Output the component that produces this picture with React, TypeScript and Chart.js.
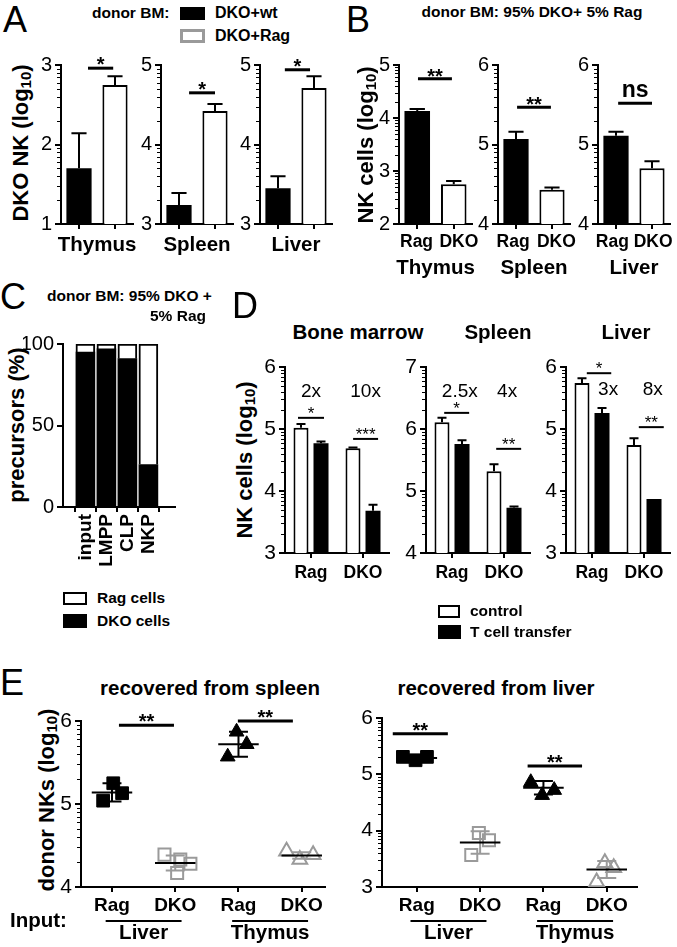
import React, { useEffect, useRef } from 'react';
import { Chart, registerables } from 'chart.js';

Chart.register(...registerables);

const FONT = '"Liberation Sans", Arial, Helvetica, sans-serif';
const GRAY = '#9a9a9a';

// ---------------- Panel A : DKO NK (log10) ----------------
const A_ORGANS = ['Thymus', 'Spleen', 'Liver'];
const A_DKO_WT = [1.7, 3.24, 3.45];
const A_DKO_WT_ERR = [0.44, 0.15, 0.15];
const A_DKO_RAG = [2.75, 4.42, 4.71];
const A_DKO_RAG_ERR = [0.11, 0.09, 0.15];
const A_YMIN = [1, 3, 3];
const A_YMAX = [3, 5, 5];
const A_SIG = ['*', '*', '*'];
const A_SIG_Y = [2.96, 4.65, 4.94];

// ---------------- Panel B : NK cells (log10) ----------------
const B_ORGANS = ['Thymus', 'Spleen', 'Liver'];
const B_GENOTYPES = ['Rag', 'DKO'];
const B_RAG = [4.13, 5.07, 5.11];
const B_RAG_ERR = [0.04, 0.09, 0.05];
const B_DKO = [2.75, 4.43, 4.7];
const B_DKO_ERR = [0.06, 0.03, 0.09];
const B_YMIN = [2, 4, 4];
const B_YMAX = [5, 6, 6];
const B_SIG = ['**', '**', 'ns'];
const B_SIG_Y = [4.74, 5.47, 5.52];

// ---------------- Panel C : precursors (%) ----------------
const C_PRECURSORS = ['input', 'LMPP', 'CLP', 'NKP'];
const C_DKO_PCT = [95, 97, 91, 26];
const C_RAG_PCT = [5, 3, 9, 74];

// ---------------- Panel D : NK cells (log10) ----------------
const D_ORGANS = ['Bone marrow', 'Spleen', 'Liver'];
const D_GENOTYPES = ['Rag', 'DKO'];
const D_CONTROL = [[5.02, 4.69], [6.11, 5.32], [5.74, 4.74]];
const D_CONTROL_ERR = [[0.06, 0.01], [0.07, 0.11], [0.08, 0.11]];
const D_TCELL = [[4.77, 3.68], [5.76, 4.73], [5.26, 3.87]];
const D_TCELL_ERR = [[0.03, 0.1], [0.06, 0.02], [0.08, 0]];
const D_YMIN = [3, 4, 3];
const D_YMAX = [6, 7, 6];
const D_FOLD = [['2x', '10x'], ['2.5x', '4x'], ['3x', '8x']];
const D_FOLD_Y = [5.6, 6.6, 5.63];
const D_SIG = [['*', '***'], ['*', '**'], ['*', '**']];
const D_SIG_Y = [[5.18, 4.84], [6.26, 5.68], [5.9, 5.03]];

// ---------------- Panel E : donor NKs (log10) ----------------
const E_INPUT_GENOTYPES = ['Rag', 'DKO', 'Rag', 'DKO'];
const E_INPUT_ORGANS = ['Liver', 'Thymus'];
// recovered from spleen
const ES_RAG_LIVER_X = [-0.14, 0.02, 0.16];
const ES_RAG_LIVER_Y = [5.04, 5.25, 5.13];
const ES_DKO_LIVER_X = [0.83, 1.08, 1.03, 1.24];
const ES_DKO_LIVER_Y = [4.39, 4.33, 4.17, 4.28];
const ES_RAG_THYMUS_X = [1.83, 1.97, 2.13];
const ES_RAG_THYMUS_Y = [5.57, 5.87, 5.72];
const ES_DKO_THYMUS_X = [2.76, 2.97, 3.18];
const ES_DKO_THYMUS_Y = [4.43, 4.33, 4.39];
const ES_MEAN = [5.14, 4.29, 5.72, 4.38];
const ES_SD = [0.11, 0.09, 0.15, 0.04];
const ES_SIG_Y = [5.95, 6.0];
// recovered from liver
const EL_RAG_LIVER_X = [-0.22, -0.02, 0.16];
const EL_RAG_LIVER_Y = [5.31, 5.25, 5.31];
const EL_DKO_LIVER_X = [0.86, 0.98, 1.14];
const EL_DKO_LIVER_Y = [3.57, 3.96, 3.83];
const EL_RAG_THYMUS_X = [1.8, 1.98, 2.17];
const EL_RAG_THYMUS_Y = [4.86, 4.63, 4.72];
const EL_DKO_THYMUS_X = [2.84, 2.97, 3.11];
const EL_DKO_THYMUS_Y = [3.09, 3.43, 3.34];
const EL_MEAN = [5.29, 3.79, 4.76, 3.31];
const EL_SD = [0.03, 0.2, 0.12, 0.15];
const EL_SIG_Y = [5.72, 5.15];

// ---------------------------------------------------------------
type Frame = { left: number; top: number; width: number; height: number; ml: number; mt: number; mr: number; mb: number };
function mkFrame(L: number, T: number, R: number, B: number, ml: number, mt: number, mr: number, mb: number): Frame {
  return { left: L - ml, top: T - mt, width: R - L + ml + mr, height: B - T + mt + mb, ml, mt, mr, mb };
}

function fontStr(fs: number, bold: boolean) {
  return `${bold ? 'bold ' : ''}${fs}px ${FONT}`;
}

type Sig = { x0: number; x1: number; y: number; text: string; dy: number; fs: number; bold: boolean; lw: number };
type Note = { x: number; y: number; text: string; fs: number };
type Group = { x0: number; x1: number; text: string; dy: number; fs: number; line?: number };
type MeanSd = { x: number; mean: number; sd: number; color: string };
type Decor = { minor?: boolean; sig?: Sig[]; notes?: Note[]; groups?: Group[]; meanSd?: MeanSd[] };

function decor(d: Decor) {
  return {
    id: 'decor',
    afterDatasetsDraw(chart: any) {
      const ctx = chart.ctx;
      const xs = chart.scales.x;
      const ys = chart.scales.y;
      ctx.save();
      ctx.lineCap = 'butt';
      chart.data.datasets.forEach((ds: any, i: number) => {
        if (!ds.errs) return;
        const meta = chart.getDatasetMeta(i);
        meta.data.forEach((el: any, j: number) => {
          const e = ds.errs[j];
          if (!e) return;
          const raw = ds.data[j];
          const v = typeof raw === 'number' ? raw : raw.y;
          const top = ys.getPixelForValue(v + e);
          const half = el.width * 0.3;
          ctx.strokeStyle = '#000';
          ctx.lineWidth = 2;
          ctx.beginPath();
          ctx.moveTo(el.x, el.y);
          ctx.lineTo(el.x, top);
          ctx.moveTo(el.x - half, top);
          ctx.lineTo(el.x + half, top);
          ctx.stroke();
        });
      });
      (d.meanSd || []).forEach((g) => {
        const cx = xs.getPixelForValue(g.x);
        const my = ys.getPixelForValue(g.mean);
        const t = ys.getPixelForValue(g.mean + g.sd);
        const b = ys.getPixelForValue(g.mean - g.sd);
        const c0 = xs.getPixelForValue(g.x - 0.15);
        const c1 = xs.getPixelForValue(g.x + 0.15);
        ctx.strokeStyle = g.color;
        ctx.lineWidth = 2;
        ctx.beginPath();
        ctx.moveTo(cx, t);
        ctx.lineTo(cx, b);
        ctx.moveTo(c0, t);
        ctx.lineTo(c1, t);
        ctx.moveTo(c0, b);
        ctx.lineTo(c1, b);
        ctx.stroke();
        ctx.strokeStyle = '#000';
        ctx.beginPath();
        ctx.moveTo(xs.getPixelForValue(g.x - 0.32), my);
        ctx.lineTo(xs.getPixelForValue(g.x + 0.32), my);
        ctx.stroke();
      });
      ctx.restore();
    },
    afterDraw(chart: any) {
      const ctx = chart.ctx;
      const xs = chart.scales.x;
      const ys = chart.scales.y;
      const area = chart.chartArea;
      ctx.save();
      ctx.fillStyle = '#000';
      ctx.strokeStyle = '#000';
      if (d.minor) {
        ctx.lineWidth = 1;
        ctx.beginPath();
        for (let k = Math.floor(ys.min); k < Math.ceil(ys.max); k++) {
          for (let m = 2; m <= 9; m++) {
            const py = Math.round(ys.getPixelForValue(k + Math.log10(m))) + 0.5;
            ctx.moveTo(area.left - 4, py);
            ctx.lineTo(area.left, py);
          }
        }
        ctx.stroke();
      }
      (d.sig || []).forEach((s) => {
        const py = ys.getPixelForValue(s.y);
        const p0 = xs.getPixelForValue(s.x0);
        const p1 = xs.getPixelForValue(s.x1);
        ctx.lineWidth = s.lw;
        ctx.beginPath();
        ctx.moveTo(p0, py);
        ctx.lineTo(p1, py);
        ctx.stroke();
        ctx.font = fontStr(s.fs, s.bold);
        ctx.textAlign = 'center';
        ctx.textBaseline = 'alphabetic';
        ctx.fillText(s.text, (p0 + p1) / 2, py + s.dy);
      });
      (d.notes || []).forEach((n) => {
        ctx.font = fontStr(n.fs, false);
        ctx.textAlign = 'center';
        ctx.textBaseline = 'middle';
        ctx.fillText(n.text, xs.getPixelForValue(n.x), ys.getPixelForValue(n.y));
      });
      (d.groups || []).forEach((g) => {
        const cx = (xs.getPixelForValue(g.x0) + xs.getPixelForValue(g.x1)) / 2;
        ctx.font = fontStr(g.fs, true);
        ctx.textAlign = 'center';
        ctx.textBaseline = 'middle';
        ctx.fillText(g.text, cx, area.bottom + g.dy);
        if (g.line !== undefined) {
          ctx.lineWidth = 2;
          ctx.beginPath();
          ctx.moveTo(xs.getPixelForValue(g.x0 - 0.1), area.bottom + g.line);
          ctx.lineTo(xs.getPixelForValue(g.x1 + 0.1), area.bottom + g.line);
          ctx.stroke();
        }
      });
      ctx.restore();
    },
  };
}

function yAxis(min: number, max: number, step: number, fs = 20) {
  return {
    type: 'linear',
    min,
    max,
    ticks: { stepSize: step, color: '#000', font: { family: FONT, size: fs }, padding: 3 },
    grid: { drawOnChartArea: false, drawTicks: true, tickLength: 6, color: '#000', lineWidth: 2 },
    border: { display: true, color: '#000', width: 2 },
  };
}

function xCat(fs: number, pad: number, showLabels = true) {
  return {
    type: 'category',
    offset: true,
    ticks: { display: showLabels, color: '#000', font: { family: FONT, size: fs, weight: 'bold' }, padding: pad, maxRotation: 0, autoSkip: false },
    grid: { offset: false, drawOnChartArea: false, drawTicks: true, tickLength: 5, color: '#000', lineWidth: 2 },
    border: { display: true, color: '#000', width: 2 },
  };
}

function xLin(min: number, max: number, labels: string[], fs: number, pad: number, rot: number) {
  return {
    type: 'linear',
    min,
    max,
    afterBuildTicks: (s: any) => {
      s.ticks = labels.map((_, i) => ({ value: i }));
    },
    ticks: {
      callback: (_v: any, i: number) => labels[i] ?? '',
      color: '#000',
      font: { family: FONT, size: fs, weight: 'bold' },
      padding: pad,
      autoSkip: false,
      maxRotation: rot,
      minRotation: rot,
    },
    grid: { drawOnChartArea: false, drawTicks: true, tickLength: 5, color: '#000', lineWidth: 2 },
    border: { display: true, color: '#000', width: 2 },
  };
}

function opts(f: Frame, x: any, y: any, extra: any = {}) {
  return {
    responsive: false,
    animation: false,
    devicePixelRatio: 1,
    events: [],
    layout: { padding: { left: 0, top: f.mt, right: f.mr, bottom: 0 } },
    plugins: { legend: { display: false }, tooltip: { enabled: false }, title: { display: false } },
    scales: {
      x: { ...x, ...(extra.x || {}), afterFit: (s: any) => { s.height = f.mb; } },
      y: { ...y, ...(extra.y || {}), afterFit: (s: any) => { s.width = f.ml; } },
    },
  };
}

// ---------------- configs ----------------
const A_FRAMES = [
  mkFrame(61, 65, 133, 224, 40, 22, 14, 40),
  mkFrame(161, 65, 233, 224, 40, 22, 14, 40),
  mkFrame(260, 65, 332, 224, 40, 22, 14, 40),
];
const A_SIG_X = [[0.25, 0.95], [0.28, 1.0], [0.19, 0.89]];

function configA(i: number) {
  const f = A_FRAMES[i];
  return {
    type: 'bar',
    data: {
      labels: ['', ''],
      datasets: [
        {
          data: [A_DKO_WT[i], A_DKO_RAG[i]],
          errs: [A_DKO_WT_ERR[i], A_DKO_RAG_ERR[i]],
          backgroundColor: ['#000', '#fff'],
          borderColor: '#000',
          borderWidth: [0, 2],
          barPercentage: 0.7,
          categoryPercentage: 1,
        },
      ],
    },
    options: opts(f, xCat(17, 3, false), yAxis(A_YMIN[i], A_YMAX[i], 1)),
    plugins: [
      decor({
        minor: true,
        sig: [{ x0: A_SIG_X[i][0], x1: A_SIG_X[i][1], y: A_SIG_Y[i], text: A_SIG[i], dy: 3, fs: 20, bold: true, lw: 3 }],
        groups: [{ x0: 0, x1: 1, text: A_ORGANS[i], dy: 21, fs: 20.5 }],
      }),
    ],
  };
}

const B_FRAMES = [
  mkFrame(399, 65, 472, 224, 40, 22, 12, 56),
  mkFrame(498, 65, 570, 224, 40, 22, 12, 56),
  mkFrame(598, 65, 670, 224, 40, 22, 6, 56),
];
const B_SIG_X = [[0.02, 0.95], [0.03, 0.97], [0.06, 1.0]];
const B_LABEL_X = [[-0.02, 1.14], [-0.08, 1.12], [-0.1, 1.03]];

function configB(i: number) {
  const f = B_FRAMES[i];
  const ns = B_SIG[i] === 'ns';
  return {
    type: 'bar',
    data: {
      labels: B_GENOTYPES,
      datasets: [
        {
          data: [B_RAG[i], B_DKO[i]],
          errs: [B_RAG_ERR[i], B_DKO_ERR[i]],
          backgroundColor: ['#000', '#fff'],
          borderColor: '#000',
          borderWidth: [0, 2],
          barPercentage: 0.7,
          categoryPercentage: 1,
        },
      ],
    },
    options: opts(f, xCat(17, 3, false), yAxis(B_YMIN[i], B_YMAX[i], 1)),
    plugins: [
      decor({
        minor: true,
        sig: [{ x0: B_SIG_X[i][0], x1: B_SIG_X[i][1], y: B_SIG_Y[i], text: B_SIG[i], dy: ns ? -6 : 4, fs: ns ? 23 : 20, bold: true, lw: 3 }],
        groups: [
          ...B_GENOTYPES.map((g, k) => ({ x0: B_LABEL_X[i][k], x1: B_LABEL_X[i][k], text: g, dy: 18, fs: 17.5 })),
          { x0: 0, x1: 1, text: B_ORGANS[i], dy: 44, fs: 20.5 },
        ],
      }),
    ],
  };
}

const C_FRAME = mkFrame(63, 343, 175, 507, 40, 14, 10, 75);
function configC() {
  const f = C_FRAME;
  return {
    type: 'bar',
    data: {
      datasets: [
        {
          label: 'DKO cells',
          data: C_DKO_PCT.map((v, i) => ({ x: i, y: v })),
          backgroundColor: '#000',
          borderWidth: 0,
          barThickness: 19,
        },
        {
          label: 'Rag cells',
          data: C_RAG_PCT.map((v, i) => ({ x: i, y: v })),
          backgroundColor: '#fff',
          borderColor: '#000',
          borderWidth: 2,
          barThickness: 19,
        },
      ],
    },
    options: opts(f, xLin(-0.4, 3.6, C_PRECURSORS, 19, 2, 90), yAxis(0, 100, 50), { x: { stacked: true }, y: { stacked: true } }),
    plugins: [decor({})],
  };
}

const D_FRAMES = [
  mkFrame(285, 367, 389, 553, 40, 22, 10, 45),
  mkFrame(426, 367, 530, 553, 40, 22, 10, 45),
  mkFrame(566, 367, 670, 553, 40, 22, 6, 45),
];
const D_SIG_X = [
  [[-0.25, 0.25], [0.81, 1.29]],
  [[-0.15, 0.33], [0.85, 1.33]],
  [[-0.1, 0.37], [0.9, 1.38]],
];
const D_FOLD_X = [[0, 1.05], [0.15, 1.06], [0.31, 1.17]];

function configD(i: number) {
  const f = D_FRAMES[i];
  return {
    type: 'bar',
    data: {
      labels: D_GENOTYPES,
      datasets: [
        {
          label: 'control',
          data: D_CONTROL[i],
          errs: D_CONTROL_ERR[i],
          backgroundColor: '#fff',
          borderColor: '#000',
          borderWidth: 2,
          barPercentage: 0.75,
          categoryPercentage: 0.77,
        },
        {
          label: 'T cell transfer',
          data: D_TCELL[i],
          errs: D_TCELL_ERR[i],
          backgroundColor: '#000',
          borderColor: '#000',
          borderWidth: 0,
          barPercentage: 0.75,
          categoryPercentage: 0.77,
        },
      ],
    },
    options: opts(f, xCat(17.5, 5), yAxis(D_YMIN[i], D_YMAX[i], 1, 21)),
    plugins: [
      decor({
        minor: true,
        sig: D_SIG[i].map((t, k) => ({ x0: D_SIG_X[i][k][0], x1: D_SIG_X[i][k][1], y: D_SIG_Y[i][k], text: t, dy: 1, fs: 17, bold: false, lw: 2 })),
        notes: D_FOLD[i].map((t, k) => ({ x: D_FOLD_X[i][k], y: D_FOLD_Y[i], text: t, fs: 19 })),
      }),
    ],
  };
}

const E_FRAMES = [mkFrame(81, 721, 325, 887, 40, 20, 10, 60), mkFrame(382, 718, 637, 887, 40, 20, 10, 60)];
const E_XMIN = [-0.49, -0.55];
const E_XMAX = [3.36, 3.47];
const E_YMIN = [4, 3];
const E_SIG_X = [
  [[0.11, 0.98], [1.99, 2.86]],
  [[-0.38, 0.49], [1.75, 2.61]],
];

function pts(xs: number[], ys: number[]) {
  return xs.map((x, k) => ({ x, y: ys[k] }));
}

function configE(i: number) {
  const f = E_FRAMES[i];
  const groups =
    i === 0
      ? [
          [ES_RAG_LIVER_X, ES_RAG_LIVER_Y],
          [ES_DKO_LIVER_X, ES_DKO_LIVER_Y],
          [ES_RAG_THYMUS_X, ES_RAG_THYMUS_Y],
          [ES_DKO_THYMUS_X, ES_DKO_THYMUS_Y],
        ]
      : [
          [EL_RAG_LIVER_X, EL_RAG_LIVER_Y],
          [EL_DKO_LIVER_X, EL_DKO_LIVER_Y],
          [EL_RAG_THYMUS_X, EL_RAG_THYMUS_Y],
          [EL_DKO_THYMUS_X, EL_DKO_THYMUS_Y],
        ];
  const means = i === 0 ? ES_MEAN : EL_MEAN;
  const sds = i === 0 ? ES_SD : EL_SD;
  const sigY = i === 0 ? ES_SIG_Y : EL_SIG_Y;
  const styles = [
    { pointStyle: 'rect', radius: 9, backgroundColor: '#000', borderColor: '#000', borderWidth: 1 },
    { pointStyle: 'rect', radius: 8.5, backgroundColor: 'rgba(0,0,0,0)', borderColor: GRAY, borderWidth: 2 },
    { pointStyle: 'triangle', radius: 8.5, backgroundColor: '#000', borderColor: '#000', borderWidth: 1 },
    { pointStyle: 'triangle', radius: 8.5, backgroundColor: 'rgba(0,0,0,0)', borderColor: GRAY, borderWidth: 2 },
  ];
  return {
    type: 'scatter',
    data: {
      datasets: groups.map((g, k) => ({
        data: pts(g[0], g[1]),
        pointStyle: styles[k].pointStyle,
        pointRadius: styles[k].radius,
        pointBackgroundColor: styles[k].backgroundColor,
        pointBorderColor: styles[k].borderColor,
        pointBorderWidth: styles[k].borderWidth,
        showLine: false,
      })),
    },
    options: opts(f, xLin(E_XMIN[i], E_XMAX[i], E_INPUT_GENOTYPES, 19, 2, 0), yAxis(E_YMIN[i], 6, 1, 21)),
    plugins: [
      decor({
        minor: true,
        meanSd: means.map((m, k) => ({ x: k, mean: m, sd: sds[k], color: k % 2 === 0 ? '#000' : GRAY })),
        sig: sigY.map((y, k) => ({ x0: E_SIG_X[i][k][0], x1: E_SIG_X[i][k][1], y, text: '**', dy: 3, fs: 20, bold: true, lw: 3 })),
        groups: E_INPUT_ORGANS.map((o, k) => ({ x0: 2 * k, x1: 2 * k + 1, text: o, dy: 46, fs: 20.5, line: 34 })),
      }),
    ],
  };
}

// ---------------- components ----------------
function ChartCanvas({ frame, make }: { frame: Frame; make: () => any }) {
  const ref = useRef<HTMLCanvasElement>(null);
  useEffect(() => {
    const chart = new Chart(ref.current as HTMLCanvasElement, make());
    return () => chart.destroy();
  }, []);
  return (
    <canvas
      ref={ref}
      width={frame.width}
      height={frame.height}
      style={{ position: 'absolute', left: frame.left, top: frame.top, width: frame.width, height: frame.height }}
    />
  );
}

function Txt({ x, y, fs, bold = true, align = 'left', children }: any) {
  const tx = align === 'center' ? '-50%' : align === 'right' ? '-100%' : '0';
  return (
    <div
      style={{
        position: 'absolute',
        left: x,
        top: y - fs / 2,
        fontSize: fs,
        lineHeight: `${fs}px`,
        fontFamily: FONT,
        fontWeight: bold ? 700 : 400,
        whiteSpace: 'nowrap',
        transform: `translateX(${tx})`,
        color: '#000',
      }}
    >
      {children}
    </div>
  );
}

function VTxt({ x, y, fs, children }: any) {
  return (
    <div
      style={{
        position: 'absolute',
        left: x,
        top: y,
        fontSize: fs,
        lineHeight: `${fs}px`,
        fontFamily: FONT,
        fontWeight: 700,
        whiteSpace: 'nowrap',
        transform: 'translate(-50%, -50%) rotate(-90deg)',
        color: '#000',
      }}
    >
      {children}
    </div>
  );
}

function Sub({ children }: any) {
  return <sub style={{ fontSize: '0.68em', verticalAlign: '-0.22em', lineHeight: 0 }}>{children}</sub>;
}

function Box({ x, y, w, h, fill, border }: any) {
  return (
    <div
      style={{ position: 'absolute', left: x, top: y, width: w, height: h, background: fill, border: border || 'none', boxSizing: 'border-box' }}
    />
  );
}

export default function App() {
  return (
    <div style={{ position: 'absolute', left: 0, top: 0, width: 677, height: 947, overflow: 'hidden', background: '#fff' }}>
      {/* Panel A */}
      <Txt x={15} y={20} fs={36} bold={false} align="center">A</Txt>
      <Txt x={92} y={13} fs={15.5}>donor BM:</Txt>
      <Box x={180} y={7} w={25} h={13} fill="#000" />
      <Txt x={215} y={13} fs={16}>DKO+wt</Txt>
      <Box x={180} y={29} w={25} h={14} fill="#fff" border={`3px solid ${GRAY}`} />
      <Txt x={215} y={36} fs={16}>DKO+Rag</Txt>
      <VTxt x={21} y={143} fs={22}>
        DKO NK (log<Sub>10</Sub>)
      </VTxt>
      {[0, 1, 2].map((i) => (
        <ChartCanvas key={'a' + i} frame={A_FRAMES[i]} make={() => configA(i)} />
      ))}

      {/* Panel B */}
      <Txt x={358} y={20} fs={36} bold={false} align="center">B</Txt>
      <Txt x={532} y={12} fs={15.5} align="center">donor BM: 95% DKO+ 5% Rag</Txt>
      <VTxt x={366} y={145} fs={22}>
        NK cells (log<Sub>10</Sub>)
      </VTxt>
      {[0, 1, 2].map((i) => (
        <ChartCanvas key={'b' + i} frame={B_FRAMES[i]} make={() => configB(i)} />
      ))}

      {/* Panel C */}
      <Txt x={13} y={297} fs={36} bold={false} align="center">C</Txt>
      <Txt x={47} y={296} fs={15.5}>donor BM: 95% DKO +</Txt>
      <Txt x={150} y={316} fs={15.5}>5% Rag</Txt>
      <VTxt x={17} y={425} fs={22}>precursors (%)</VTxt>
      <ChartCanvas frame={C_FRAME} make={configC} />
      <Box x={63} y={592} w={24} h={13} fill="#fff" border="2px solid #000" />
      <Txt x={97} y={598} fs={15.5}>Rag cells</Txt>
      <Box x={63} y={614} w={24} h={14} fill="#000" />
      <Txt x={97} y={621} fs={15.5}>DKO cells</Txt>

      {/* Panel D */}
      <Txt x={245} y={306} fs={36} bold={false} align="center">D</Txt>
      <Txt x={358} y={332} fs={20.5} align="center">{D_ORGANS[0]}</Txt>
      <Txt x={498} y={332} fs={20.5} align="center">{D_ORGANS[1]}</Txt>
      <Txt x={626} y={332} fs={20.5} align="center">{D_ORGANS[2]}</Txt>
      <VTxt x={245} y={460} fs={22}>
        NK cells (log<Sub>10</Sub>)
      </VTxt>
      {[0, 1, 2].map((i) => (
        <ChartCanvas key={'d' + i} frame={D_FRAMES[i]} make={() => configD(i)} />
      ))}
      <Box x={438} y={605} w={22} h={13} fill="#fff" border="2px solid #000" />
      <Txt x={470} y={611} fs={15.5}>control</Txt>
      <Box x={438} y={625} w={23} h={14} fill="#000" />
      <Txt x={470} y={632} fs={15.5}>T cell transfer</Txt>

      {/* Panel E */}
      <Txt x={12} y={683} fs={36} bold={false} align="center">E</Txt>
      <Txt x={210} y={688} fs={20.5} align="center">recovered from spleen</Txt>
      <Txt x={496} y={688} fs={20.5} align="center">recovered from liver</Txt>
      <VTxt x={47} y={800} fs={22}>
        donor NKs (log<Sub>10</Sub>)
      </VTxt>
      <ChartCanvas frame={E_FRAMES[0]} make={() => configE(0)} />
      <ChartCanvas frame={E_FRAMES[1]} make={() => configE(1)} />
      <Txt x={10} y={920} fs={20.5}>Input:</Txt>
    </div>
  );
}
